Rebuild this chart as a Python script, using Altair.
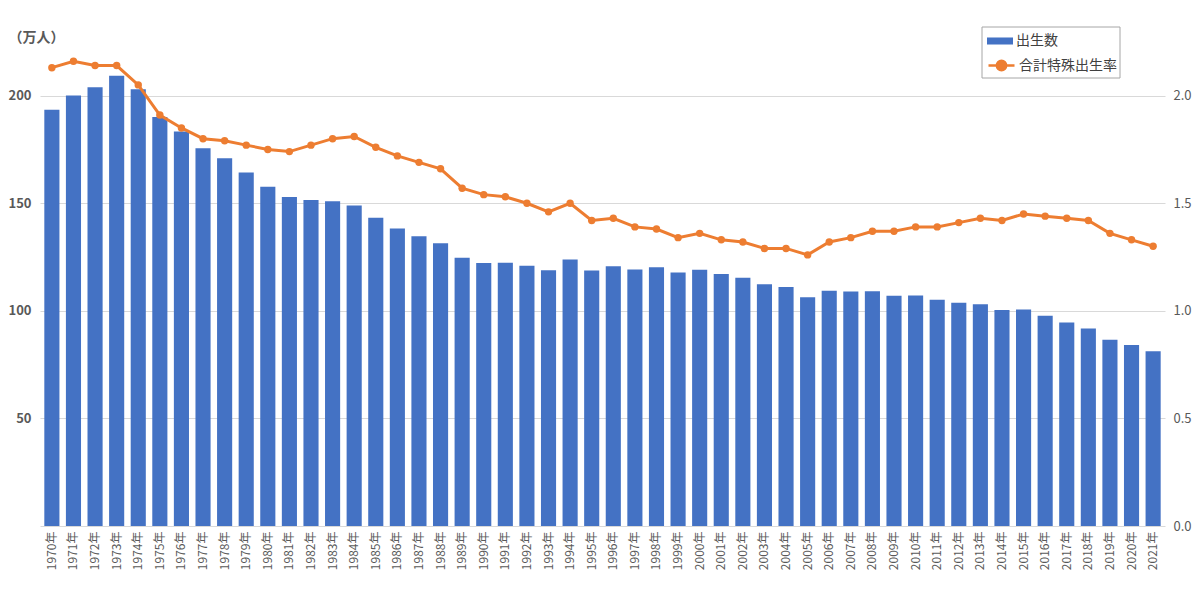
import altair as alt
import pandas as pd

years = list(range(1970, 2022))
labels = [f"{y}年" for y in years]
births = [193.4, 200.1, 203.9, 209.2, 203.0, 190.1, 183.3, 175.5, 170.9, 164.3,
          157.7, 152.9, 151.5, 150.9, 149.0, 143.2, 138.3, 134.7, 131.4, 124.7,
          122.2, 122.3, 120.9, 118.8, 123.8, 118.7, 120.7, 119.2, 120.3, 117.8,
          119.1, 117.1, 115.4, 112.4, 111.1, 106.3, 109.3, 109.0, 109.1, 107.0,
          107.1, 105.1, 103.7, 103.0, 100.4, 100.6, 97.7, 94.6, 91.8, 86.5,
          84.1, 81.2]
tfr = [2.13, 2.16, 2.14, 2.14, 2.05, 1.91, 1.85, 1.80, 1.79, 1.77,
       1.75, 1.74, 1.77, 1.80, 1.81, 1.76, 1.72, 1.69, 1.66, 1.57,
       1.54, 1.53, 1.50, 1.46, 1.50, 1.42, 1.43, 1.39, 1.38, 1.34,
       1.36, 1.33, 1.32, 1.29, 1.29, 1.26, 1.32, 1.34, 1.37, 1.37,
       1.39, 1.39, 1.41, 1.43, 1.42, 1.45, 1.44, 1.43, 1.42, 1.36,
       1.33, 1.30]
bar_name = "出生数"
line_name = "合計特殊出生率"
bar_color = "#4472C4"
line_color = "#ED7D31"

df = pd.DataFrame({"label": labels, "births": births, "tfr": tfr})

FONT = "Noto Sans CJK JP"

x_enc = alt.X(
    "label:N", sort=None, title=None,
    scale=alt.Scale(paddingInner=0.3, paddingOuter=0.2),
    axis=alt.Axis(labelAngle=270, labelFontSize=12, labelColor="#595959",
                  ticks=False, domainColor="#D9D9D9", labelPadding=5,
                  labelFont=FONT, labelBaseline="middle", labelAlign="right"),
)

legend_common = dict(orient="none", title=None, padding=0, labelFontSize=14,
                     labelColor="#404040", labelFont=FONT, symbolSize=676,
                     labelOffset=3)

bars = alt.Chart(df).transform_calculate(series=f"'{bar_name}'").mark_bar().encode(
    x=x_enc,
    y=alt.Y("births:Q", scale=alt.Scale(domain=[0, 224], nice=False),
            axis=alt.Axis(values=[50, 100, 150, 200], title="（万人）", titleAngle=0,
                          titleAlign="left", titleBaseline="middle", titleX=-32, titleY=-7,
                          titleFontSize=14, titleFontWeight="bold", titleColor="#595959",
                          titleFont=FONT,
                          labelFontSize=13, labelFontWeight="bold", labelColor="#595959",
                          labelFont=FONT, labelPadding=9,
                          ticks=False, domain=False, gridColor="#D9D9D9")),
    color=alt.Color("series:N", scale=alt.Scale(domain=[bar_name], range=[bar_color]),
                    legend=alt.Legend(legendX=947, legendY=-16,
                                      symbolType="M-1,-0.27H1V0.27H-1Z",
                                      symbolStrokeWidth=0, **legend_common)),
)

line = alt.Chart(df).transform_calculate(series=f"'{line_name}'").mark_line(
    strokeWidth=3,
    point=alt.OverlayMarkDef(size=55, filled=True, opacity=1),
).encode(
    x=x_enc,
    y=alt.Y("tfr:Q", scale=alt.Scale(domain=[0, 2.24], nice=False),
            axis=alt.Axis(orient="right", values=[0, 0.5, 1.0, 1.5, 2.0], format=".1f",
                          title=None, labelFontSize=13, labelColor="#595959",
                          labelFont=FONT, labelPadding=8,
                          ticks=False, domain=False, grid=False)),
    color=alt.Color("series:N", scale=alt.Scale(domain=[line_name], range=[line_color]),
                    legend=alt.Legend(legendX=947, legendY=7,
                                      symbolType="M-1,0H1M0.36,0A0.36,0.36 0 1 1 -0.36,0A0.36,0.36 0 1 1 0.36,0",
                                      symbolStrokeWidth=2.5, symbolFillColor=line_color,
                                      symbolStrokeColor=line_color, **legend_common)),
)

frame = alt.Chart(pd.DataFrame({"k": [0]})).mark_rect(
    fill=None, stroke="#A6A6A6", strokeWidth=1
).encode(x=alt.value(942), x2=alt.value(1080), y=alt.value(-17), y2=alt.value(34))

chart = alt.layer(bars, line, frame).resolve_scale(y="independent", color="independent").properties(
    width=1125, height=482,
    autosize=alt.AutoSizeParams(type="none"),
    padding={"left": 32, "top": 36, "right": 27, "bottom": 64},
).configure(background="white").configure_view(stroke=None)

chart.save("out.html", embed_options={"renderer": "svg", "actions": False})
